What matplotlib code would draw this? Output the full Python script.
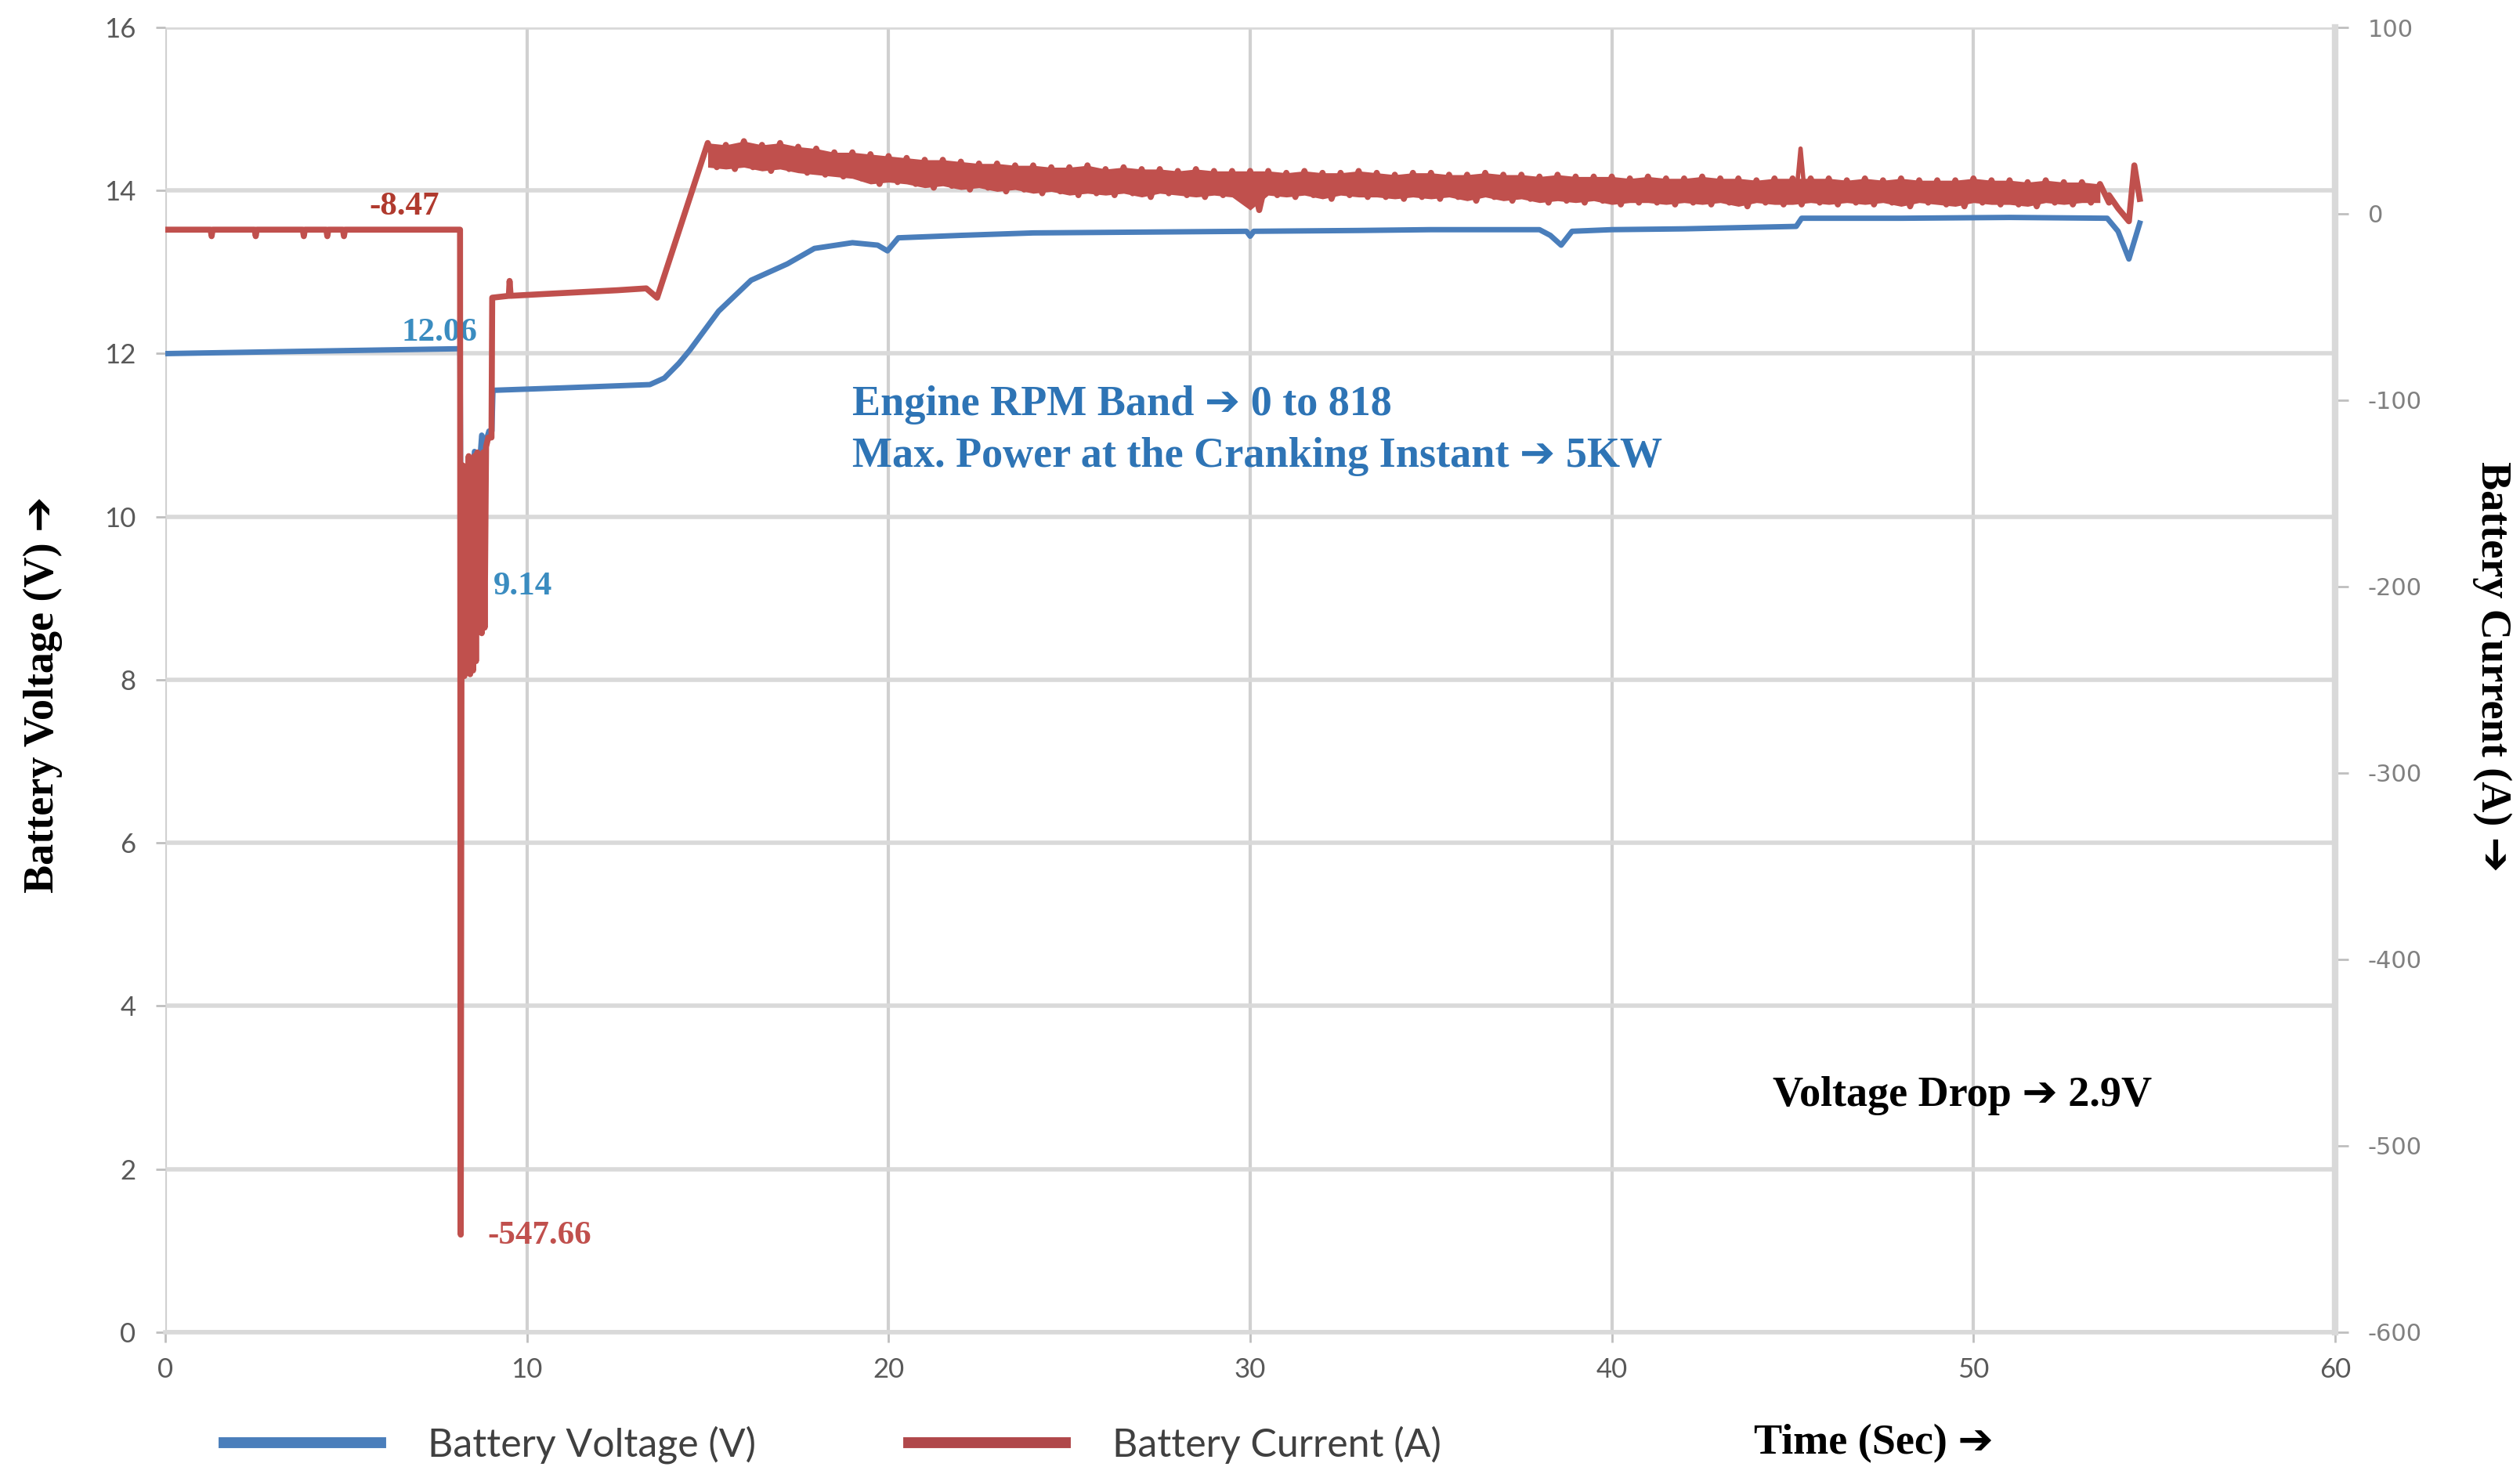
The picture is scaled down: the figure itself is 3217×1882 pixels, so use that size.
#!/usr/bin/env python3
# Battery voltage / current during engine cranking, redrawn from the figure.
import numpy as np
import matplotlib
matplotlib.use('Agg')
import matplotlib.pyplot as plt
from matplotlib.lines import Line2D

plt.rcParams['font.family'] = ['Lato', 'DejaVu Sans']
plt.rcParams['axes.unicode_minus'] = False

# --- voltage (left axis, V) ---
volt_time = [0, 4, 8.15, 8.18, 8.22, 8.3, 8.38, 8.45, 8.55, 8.65, 8.75, 8.85, 8.95, 9.03,
             9.06, 11, 13.4, 13.8, 14.2, 14.5, 15.3, 16.2, 17.2, 17.95, 19.0, 19.7, 19.97,
             20.27, 22, 24, 27, 29.9, 30.0, 30.1, 33, 35, 38, 38.3, 38.6, 38.9, 40, 42,
             45.1, 45.25, 48, 51, 53.7, 54.0, 54.3, 54.6]
volt_vals = [12.0, 12.03, 12.06, 9.14, 10.2, 10.0, 10.6, 10.1, 10.8, 10.4, 11.0, 10.9, 11.05, 11.05,
             11.55, 11.58, 11.62, 11.7, 11.88, 12.04, 12.52, 12.9, 13.1, 13.29, 13.36, 13.33, 13.26,
             13.42, 13.45, 13.48, 13.49, 13.5, 13.44, 13.5, 13.51, 13.52, 13.52, 13.45, 13.33, 13.5,
             13.52, 13.53, 13.56, 13.66, 13.66, 13.67, 13.66, 13.5, 13.16, 13.6]

# --- current (right axis, A) ---
amp_pre_time = [0, 1.25, 1.28, 1.31, 2.47, 2.5, 2.53, 3.8, 3.83, 3.86, 4.45, 4.48, 4.51,
                4.91, 4.94, 4.97, 8.14]
amp_pre = [-8.5, -8.5, -12, -8.5, -8.5, -12, -8.5, -8.5, -12, -8.5, -8.5, -12, -8.5,
           -8.5, -12, -8.5, -8.5]

amp_crank_time = [8.15, 8.17, 8.19, 8.23, 8.27, 8.31, 8.35, 8.39, 8.43, 8.47, 8.51, 8.55,
                  8.59, 8.63, 8.67, 8.71, 8.75, 8.79, 8.83, 8.87, 8.93, 9.02]
amp_crank = [-8.5, -547.66, -245, -135, -248, -140, -246, -130, -247, -135, -245, -130,
             -240, -128, -223, -130, -225, -128, -222, -125, -120, -120]

amp_flat_time = [9.04, 9.5, 9.52, 9.55, 10.5, 11.5, 12.5, 13.3, 13.6]
amp_flat = [-45, -44, -36, -44, -43, -42, -41, -40, -45]

# charging part: noisy band, read as upper / lower edge every 0.5 s (15.0 .. 53.5 s)
band_start = 15.0
band_hi = [38, 37, 39, 37, 38, 36, 35, 33, 33, 32,
           31, 30, 29, 29, 28, 27, 27, 26, 26, 25,
           25, 26, 24, 25, 24, 24, 23, 24, 23, 23,
           23, 23, 22, 23, 22, 22, 23, 22, 21, 22,
           22, 21, 21, 22, 21, 21, 20, 21, 20, 20,
           20, 19, 20, 19, 19, 20, 19, 19, 18, 19,
           19, 19, 19, 18, 19, 18, 19, 18, 18, 18,
           19, 18, 18, 17, 18, 17, 17, 16]
band_lo = [25, 24, 25, 23, 24, 22, 21, 20, 19, 16,
           17, 16, 14, 15, 13, 14, 12, 13, 11, 12,
           10, 11, 10, 11, 9, 11, 10, 9, 10, 9,
           2, 10, 9, 10, 8, 10, 9, 9, 8, 9,
           8, 9, 7, 9, 7, 8, 6, 7, 6, 7,
           5, 6, 6, 5, 6, 5, 6, 4, 6, 5,
           5, 6, 5, 6, 5, 6, 4, 6, 5, 4,
           6, 5, 5, 4, 6, 5, 6, 6]
spike_time = [45.12, 45.22, 45.32]
spike_amp = [14, 35, 14]

amp_end_time = [53.75, 54.0, 54.3, 54.45, 54.6]
amp_end = [10, 3, -4, 26, 8]

volt_ticks = list(range(0, 17, 2))
amp_ticks = list(range(-600, 101, 100))
time_ticks = list(range(0, 61, 10))

band_time = band_start + 0.5 * np.arange(len(band_hi))
zig_time = []
zig_amp = []
for t, hi, lo in zip(band_time, band_hi, band_lo):
    zig_time += [t, t + 0.25]
    zig_amp += [hi, lo]
amp_time = amp_pre_time + amp_crank_time + amp_flat_time + zig_time + amp_end_time
amp_vals = amp_pre + amp_crank + amp_flat + zig_amp + amp_end

BLUE = '#4A7EBB'
RED = '#C0504D'
GRID = '#d9d9d9'
TICK = '#595959'
SERIF = ['Liberation Serif', 'DejaVu Sans']

fig = plt.figure(figsize=(32.17, 18.82), dpi=100)
ax = fig.add_axes([0.0656, 0.0962, 0.8610, 0.8852])
ax2 = ax.twinx()

ax.plot(volt_time, volt_vals, color=BLUE, lw=5, solid_joinstyle='round', zorder=3)
ax2.fill_between(band_time, band_lo, band_hi, color=RED, lw=0, zorder=3)
ax2.plot(amp_time, amp_vals, color=RED, lw=5.5, solid_joinstyle='round', zorder=3)
ax2.plot(spike_time, spike_amp, color=RED, lw=4, zorder=3)

ax.set_xlim(0, 60)
ax.set_ylim(0, 16)
ax2.set_ylim(-600, 100)
ax.set_xticks(time_ticks)
ax.set_yticks(volt_ticks)
ax2.set_yticks(amp_ticks, labels=[str(v) for v in amp_ticks],
               fontfamily='DejaVu Sans', fontsize=22, color='#808080')

ax.set_axisbelow(True)
ax.grid(True, axis='y', color=GRID, lw=4)
ax.grid(True, axis='x', color='#d0d0d0', lw=3)

for s in ['top', 'left', 'right']:
    ax.spines[s].set_visible(False)
for s in ['top', 'left', 'bottom']:
    ax2.spines[s].set_visible(False)
ax.spines['bottom'].set_color(GRID)
ax.spines['bottom'].set_linewidth(4)
ax2.spines['right'].set_color(GRID)
ax2.spines['right'].set_linewidth(6)

ax.tick_params(axis='both', colors='#bfbfbf', labelcolor=TICK, labelsize=25,
               length=9, width=2)
ax.tick_params(axis='y', pad=18)
ax.tick_params(axis='x', pad=14)
ax2.tick_params(axis='y', colors='#bfbfbf', labelcolor='#808080',
                length=12, width=2, pad=18)

# axis titles
fig.text(0.017, 0.529, 'Battery Voltage (V) \u2794', rotation=90, ha='center', va='center',
         fontsize=39, fontweight='bold', family=SERIF)
fig.text(0.989, 0.548, 'Battery Current (A) \u2794', rotation=-90, ha='center', va='center',
         fontsize=39, fontweight='bold', family=SERIF)
fig.text(0.696, 0.0205, 'Time (Sec) \u2794', ha='left', va='center',
         fontsize=39, fontweight='bold', family=SERIF)

# value callouts
ax.text(5.65, 13.8, '-8.47', color='#B03A2E', fontsize=31, fontweight='bold',
        family=SERIF, ha='left', va='center')
ax.text(6.54, 12.25, '12.06', color='#3A8CC0', fontsize=31, fontweight='bold',
        family=SERIF, ha='left', va='center')
ax.text(9.07, 9.14, '9.14', color='#3A8CC0', fontsize=31, fontweight='bold',
        family=SERIF, ha='left', va='center')
ax.text(8.9, 1.18, '-547.66', color=RED, fontsize=31, fontweight='bold',
        family=SERIF, ha='left', va='center')

ax.text(19.0, 11.37, 'Engine RPM Band \u2794 0 to 818', color='#2E74B5', fontsize=39,
        fontweight='bold', family=SERIF, ha='left', va='center')
ax.text(19.0, 10.74, 'Max. Power at the Cranking Instant \u2794 5KW', color='#2E74B5',
        fontsize=39, fontweight='bold', family=SERIF, ha='left', va='center')
ax.text(44.45, 2.9, 'Voltage Drop \u2794 2.9V', color='black', fontsize=39,
        fontweight='bold', family=SERIF, ha='left', va='center')

handles = [Line2D([], [], color=BLUE, lw=10), Line2D([], [], color='#B0474A', lw=10)]
fig.legend(handles, ['Battery Voltage (V)', 'Battery Current (A)'], ncol=2,
           loc='center left', bbox_to_anchor=(0.089, 0.0197), frameon=False,
           fontsize=36, handlelength=4.0, handletextpad=1.2, columnspacing=3.9,
           borderpad=0, borderaxespad=0, labelcolor='#404040')

fig.savefig('out.png', dpi=100)
